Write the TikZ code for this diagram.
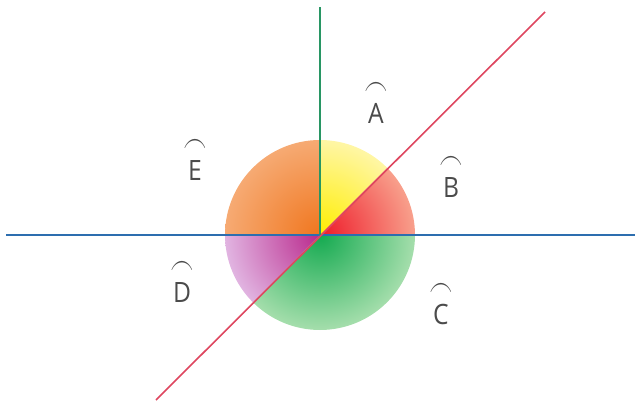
\documentclass[tikz,border=0pt]{standalone}
\usepackage{amsmath}
\usepackage{fontspec}
\setmainfont{Open Sans}
\usepackage{tikz}
\usetikzlibrary{positioning,calc}
\definecolor{axisblue}{RGB}{45,110,175}
\definecolor{axisgreen}{RGB}{40,150,100}
\definecolor{axisred}{RGB}{222,70,95}
\definecolor{labelgray}{RGB}{75,75,75}
\definecolor{ayellow}{RGB}{255,238,0}
\definecolor{ayellowout}{RGB}{255,246,165}
\definecolor{bred}{RGB}{238,25,40}
\definecolor{bredout}{RGB}{248,160,140}
\definecolor{cgreen}{RGB}{20,170,80}
\definecolor{cgreenout}{RGB}{165,222,172}
\definecolor{dpurple}{RGB}{185,40,140}
\definecolor{dpurpleout}{RGB}{225,180,225}
\definecolor{eorange}{RGB}{240,118,30}
\definecolor{eorangeout}{RGB}{246,170,115}
\newcommand{\arclabel}[1]{\ensuremath{\overset{\raisebox{2pt}{\scalebox{0.95}[1.5]{$\textstyle\frown$}}}{\scalebox{0.88}[1]{\text{#1}}}}}
\newcommand{\shadesector}[4]{%
	\begin{scope}
		\clip (O) -- ++(#1:95pt) arc[start angle=#1,end angle=#2,radius=95pt] -- cycle;
		\shade[inner color=#3,outer color=#4] (O) circle (95pt);
	\end{scope}}
\tikzset{
	axis/.style={
		line width=1.6pt
	},
	anglelabel/.style={
		text=labelgray,
		font=\fontsize{28}{28}\selectfont,
		inner sep=0pt
	}
}

\begin{document}
\begin{tikzpicture}[x=1pt,y=1pt]
	
	\useasboundingbox (0,0) rectangle (635,405);
	
	% Points
	\coordinate (O) at (320,170);
	\coordinate (L) at (6,170);
	\coordinate (R) at (635,170);
	\coordinate (T) at (320,398);
	\coordinate (NE) at (545,393);
	\coordinate (SW) at (156,5);
	
	% Sectors
	\shadesector{45}{90}{ayellow}{ayellowout}
	\shadesector{0}{45}{bred}{bredout}
	\shadesector{-135}{0}{cgreen}{cgreenout}
	\shadesector{180}{225}{dpurple}{dpurpleout}
	\shadesector{90}{180}{eorange}{eorangeout}
	
	% Lines
	\draw[axis,axisblue,line width=2.6pt] (L) -- (R);
	\draw[axis,axisgreen] (O) -- (T);
	\draw[axis,axisred] (SW) -- (NE);
	
	% Labels
	\node[anglelabel] (A) at (376,303) {\arclabel{A}};
	\node[anglelabel] (B) at (451,229) {\arclabel{B}};
	\node[anglelabel] (C) at (441,102) {\arclabel{C}};
	\node[anglelabel] (D) at (182,124) {\arclabel{D}};
	\node[anglelabel] (E) at (195,246) {\arclabel{E}};
	
\end{tikzpicture}
\end{document}
